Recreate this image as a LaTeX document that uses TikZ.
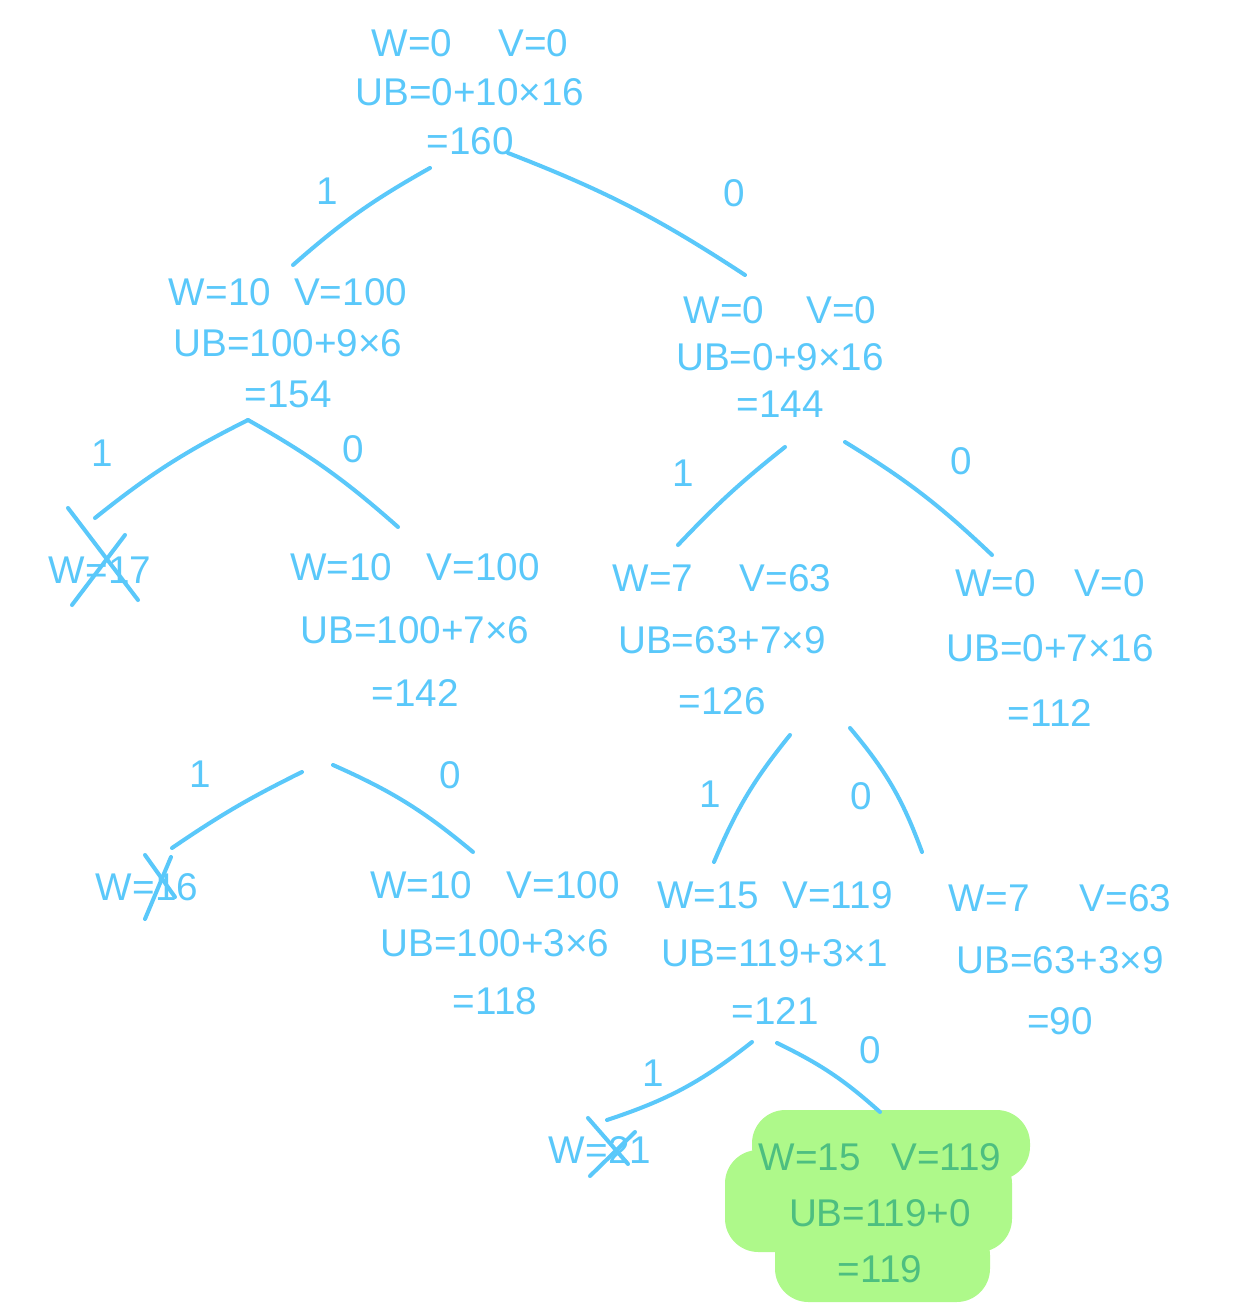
\documentclass[tikz,border=0pt]{standalone}
\usepackage{fontspec}
\setmainfont{Liberation Sans}
\usepackage{xcolor}
\usetikzlibrary{calc}

\definecolor{ink}{HTML}{5AC8FA}
\definecolor{marker}{HTML}{AEF98A}
\definecolor{markink}{HTML}{4DBF80}

\begin{document}
\begin{tikzpicture}[x=0.02cm, y=-0.02cm,
    every node/.style={text=ink, font=\fontsize{22}{28}\selectfont},
    box/.style={align=center, inner sep=5pt, font=\fontsize{22}{#1}\selectfont},
    box/.default=28,
    edge/.style={draw=ink, line width=2.3pt, line cap=round},
    bit/.style={font=\fontsize{22}{24}\selectfont, inner sep=0pt}]
    \useasboundingbox (0,0) rectangle (1234,1304);

    % green marker behind the best leaf
    \fill[marker, rounded corners=19pt] (752,1110) rectangle (1030,1180);
    \fill[marker, rounded corners=19pt] (725,1150) rectangle (1012,1252);
    \fill[marker, rounded corners=19pt] (775,1222) rectangle (990,1302);

    \node[box] (root) at (470,92) {W=0\hspace{1.2em}V=0\\UB=0+10×16\\=160};
    \node[box=29] (n1) at (288,343) {W=10\hspace{0.6em}V=100\\UB=100+9×6\\=154};
    \node[box=27] (n0) at (780,357) {W=0\hspace{1.1em}V=0\\UB=0+9×16\\=144};
    \node[box] (n11) at (100,570) {W=17};
    \node[box=36] (n10) at (415,630) {W=10\hspace{0.9em}V=100\\UB=100+7×6\\=142};
    \node[box=35] (n01) at (722,640) {W=7\hspace{1.2em}V=63\\UB=63+7×9\\=126};
    \node[box=37] (n00) at (1050,648) {W=0\hspace{1em}V=0\\UB=0+7×16\\=112};
    \node[box] (n101) at (147,887) {W=16};
    \node[box=33] (n100) at (495,943) {W=10\hspace{0.9em}V=100\\UB=100+3×6\\=118};
    \node[box=33] (n011) at (775,953) {W=15\hspace{0.6em}V=119\\UB=119+3×1\\=121};
    \node[box=35] (n010) at (1060,960) {W=7\hspace{1.3em}V=63\\UB=63+3×9\\=90};
    \node[box] (n0111) at (600,1150) {W=21};
    \node[box=32, text=markink] (n0110) at (880,1213) {W=15\hspace{0.8em}V=119\\UB=119+0\\=119};

    % crossed out weights
    \draw[edge] ($(n11.center)+(-32,-62)$) -- ($(n11.center)+(38,30)$);
    \draw[edge] ($(n11.center)+(-28,35)$) -- ($(n11.center)+(25,-35)$);
    \draw[edge] ($(n101.center)+(-2,-32)$) -- ($(n101.center)+(28,10)$);
    \draw[edge] ($(n101.center)+(-2,32)$) -- ($(n101.center)+(24,-30)$);
    \draw[edge] ($(n0111.center)+(-12,-32)$) -- ($(n0111.center)+(28,14)$);
    \draw[edge] ($(n0111.center)+(-10,26)$) -- ($(n0111.center)+(35,-18)$);

    \draw[edge] ($(root.center)+(-40,76)$) to[bend right=6]
        node[bit, shift={(-31,-21)}] {1} ($(n1.center)+(5,-78)$);
    \draw[edge] ($(root.center)+(38,61)$) to[bend left=6]
        node[bit, shift={(104,-14)}] {0} ($(n0.center)+(-35,-82)$);
    \draw[edge] ($(n1.center)+(-40,77)$) to[bend right=6]
        node[bit, shift={(-66,-11)}] {1} ($(n11.center)+(-5,-52)$);
    \draw[edge] ($(n1.center)+(-40,77)$) to[bend left=6]
        node[bit, shift={(27,-20)}] {0} ($(n10.center)+(-17,-103)$);
    \draw[edge] ($(n0.center)+(5,90)$) to[bend right=4]
        node[bit, shift={(-46,-21)}] {1} ($(n01.center)+(-44,-95)$);
    \draw[edge] ($(n0.center)+(65,85)$) to[bend left=6]
        node[bit, shift={(39,-33)}] {0} ($(n00.center)+(-58,-93)$);
    \draw[edge] ($(n10.center)+(-113,142)$) to[bend right=4]
        node[bit, shift={(-35,-33)}] {1} ($(n101.center)+(25,-39)$);
    \draw[edge] ($(n10.center)+(-82,135)$) to[bend left=8]
        node[bit, shift={(44,-28)}] {0} ($(n100.center)+(-22,-91)$);
    \draw[edge] ($(n01.center)+(68,95)$) to[bend right=8]
        node[bit, shift={(-37,-1)}] {1} ($(n011.center)+(-61,-91)$);
    \draw[edge] ($(n01.center)+(128,88)$) to[bend left=10]
        node[bit, shift={(-31,10)}] {0} ($(n010.center)+(-138,-108)$);
    \draw[edge] ($(n011.center)+(-23,89)$) to[bend left=10]
        node[bit, shift={(-30,-15)}] {1} ($(n0111.center)+(7,-30)$);
    \draw[edge] ($(n011.center)+(2,90)$) to[bend left=8]
        node[bit, shift={(39,-23)}] {0} ($(n0110.center)+(0,-101)$);
\end{tikzpicture}
\end{document}
